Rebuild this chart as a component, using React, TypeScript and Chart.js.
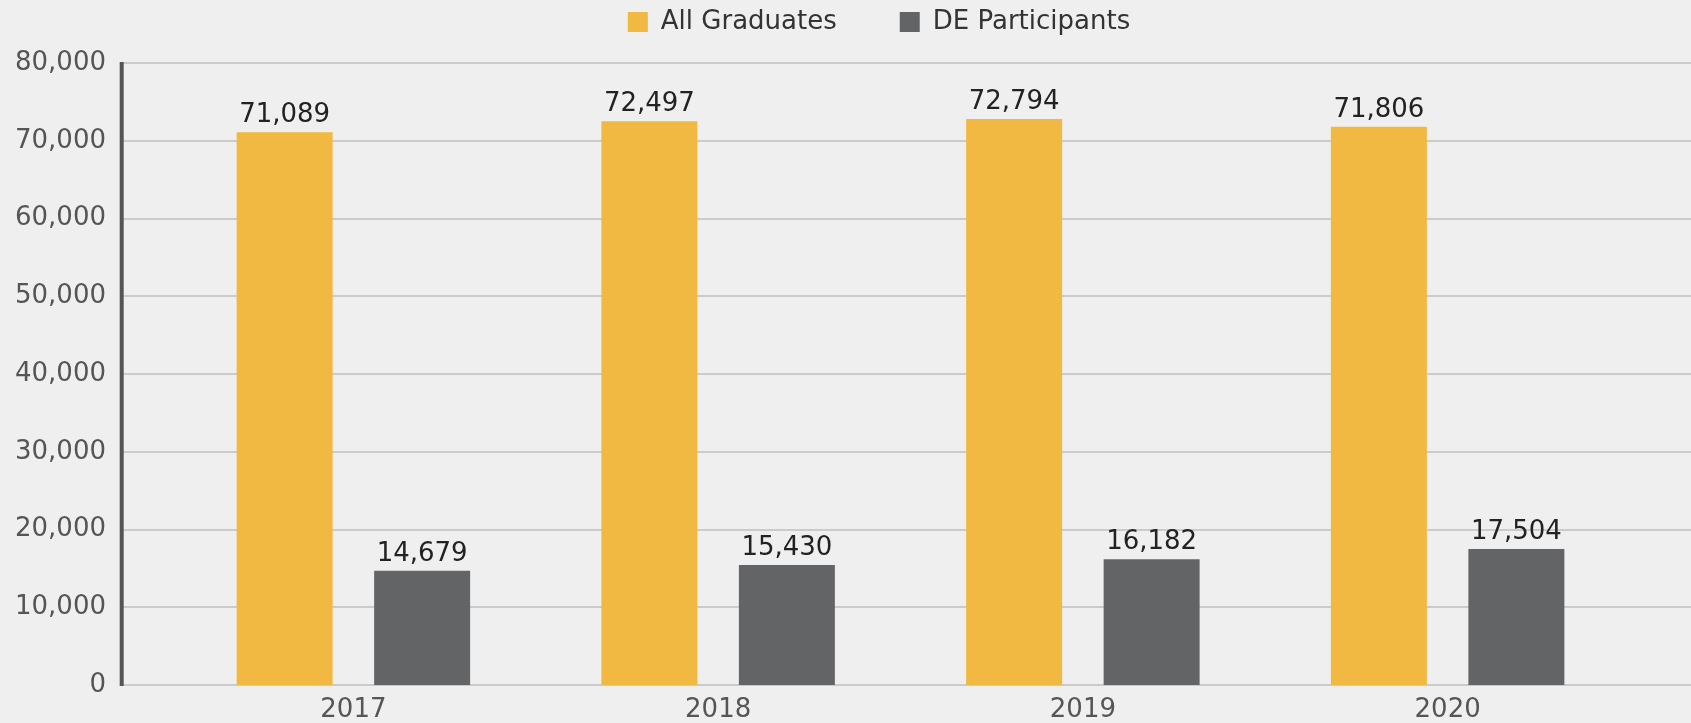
import React, { useEffect, useRef } from "react";
import { Chart, registerables } from "chart.js";

Chart.register(...registerables);

const categories = ["2017", "2018", "2019", "2020"];
const allGraduates = [71089, 72497, 72794, 71806];
const deParticipants = [14679, 15430, 16182, 17504];
const seriesNames = ["All Graduates", "DE Participants"];
const yTickMax = 80000;
const yTickStep = 10000;

const FONT = "'DejaVu Sans', sans-serif";
const FS = 26;
const YELLOW = "#F1B941";
const GREY = "#636466";

export default function App() {
  const ref = useRef<HTMLCanvasElement | null>(null);

  useEffect(() => {
    document.body.style.margin = "0";
    document.body.style.background = "#EFEFEF";
    document.body.style.overflow = "hidden";
    const canvas = ref.current;
    if (!canvas) return;

    const LEGEND_PAD = 63;
    const LEGEND_SHIFT = 64;

    const fixPlugin = {
      id: "fixPlugin",
      beforeInit(chart: any) {
        const lg = chart.legend;
        if (lg) {
          const origFit = lg.fit;
          lg.fit = function () {
            origFit.call(this);
            this.height = 63;
          };
          const origDraw = lg._draw;
          lg._draw = function () {
            const t = this.top;
            this.top = 9 - LEGEND_PAD;
            this.ctx.save();
            this.ctx.translate(LEGEND_SHIFT, 0);
            origDraw.call(this);
            this.ctx.restore();
            this.top = t;
          };
        }
      },
      beforeDatasetsDraw(chart: any) {
        const ctx = chart.ctx;
        const y = chart.scales.y;
        ctx.save();
        ctx.strokeStyle = "#CBCBCB";
        ctx.lineWidth = 2;
        y.ticks.forEach((t: any) => {
          const py = Math.round(y.getPixelForValue(t.value));
          ctx.beginPath();
          ctx.moveTo(122, py);
          ctx.lineTo(chart.width, py);
          ctx.stroke();
        });
        ctx.strokeStyle = "#555555";
        ctx.lineWidth = 4;
        ctx.beginPath();
        ctx.moveTo(121.7, y.getPixelForValue(yTickMax) - 1);
        ctx.lineTo(121.7, y.getPixelForValue(0) + 1);
        ctx.stroke();
        ctx.restore();
      },
      afterDatasetsDraw(chart: any) {
        const ctx = chart.ctx;
        ctx.save();
        ctx.font = `${FS}px ${FONT}`;
        ctx.fillStyle = "#222222";
        ctx.textAlign = "center";
        ctx.textBaseline = "alphabetic";
        chart.data.datasets.forEach((ds: any, di: number) => {
          const meta = chart.getDatasetMeta(di);
          meta.data.forEach((el: any, i: number) => {
            const v = ds.data[i] as number;
            ctx.fillText(v.toLocaleString("en-US"), el.x, el.y - 10);
          });
        });
        ctx.restore();
      },
    };

    const chart = new Chart(canvas, {
      type: "bar",
      data: {
        labels: categories,
        datasets: [
          {
            label: seriesNames[0],
            data: allGraduates,
            backgroundColor: YELLOW,
            borderWidth: 0,
            categoryPercentage: 0.754,
            barPercentage: 0.698,
          },
          {
            label: seriesNames[1],
            data: deParticipants,
            backgroundColor: GREY,
            borderWidth: 0,
            categoryPercentage: 0.754,
            barPercentage: 0.698,
          },
        ],
      },
      options: {
        animation: false,
        responsive: true,
        maintainAspectRatio: false,
        layout: { padding: { left: 0, right: 61, top: 0, bottom: 0 } },
        plugins: {
          tooltip: { enabled: false },
          legend: {
            position: "top",
            align: "center",
            labels: {
              boxWidth: 20,
              boxHeight: 20,
              padding: LEGEND_PAD,
              color: "#333333",
              font: { family: FONT, size: FS },
            },
          },
        },
        scales: {
          x: {
            grid: { display: false, drawTicks: false },
            border: { display: false },
            ticks: {
              color: "#555555",
              font: { family: FONT, size: FS },
              padding: 10,
              maxRotation: 0,
            },
            afterFit(scale: any) {
              scale.height = 38;
              scale.paddingLeft = 0;
              scale.paddingRight = 0;
            },
          },
          y: {
            min: 0,
            max: yTickMax,
            grid: { display: false, drawTicks: false },
            border: { display: false },
            ticks: {
              stepSize: yTickStep,
              color: "#555555",
              font: { family: FONT, size: FS },
              padding: 65,
              callback: (v: any) => Number(v).toLocaleString("en-US"),
            },
            afterFit(scale: any) {
              scale.width = 171;
              scale.paddingTop = 0;
              scale.paddingBottom = 0;
            },
          },
        },
      },
      plugins: [fixPlugin],
    });

    return () => {
      chart.destroy();
    };
  }, []);

  return (
    <div style={{ width: "1691px", height: "723px", position: "relative" }}>
      <canvas ref={ref} />
    </div>
  );
}
